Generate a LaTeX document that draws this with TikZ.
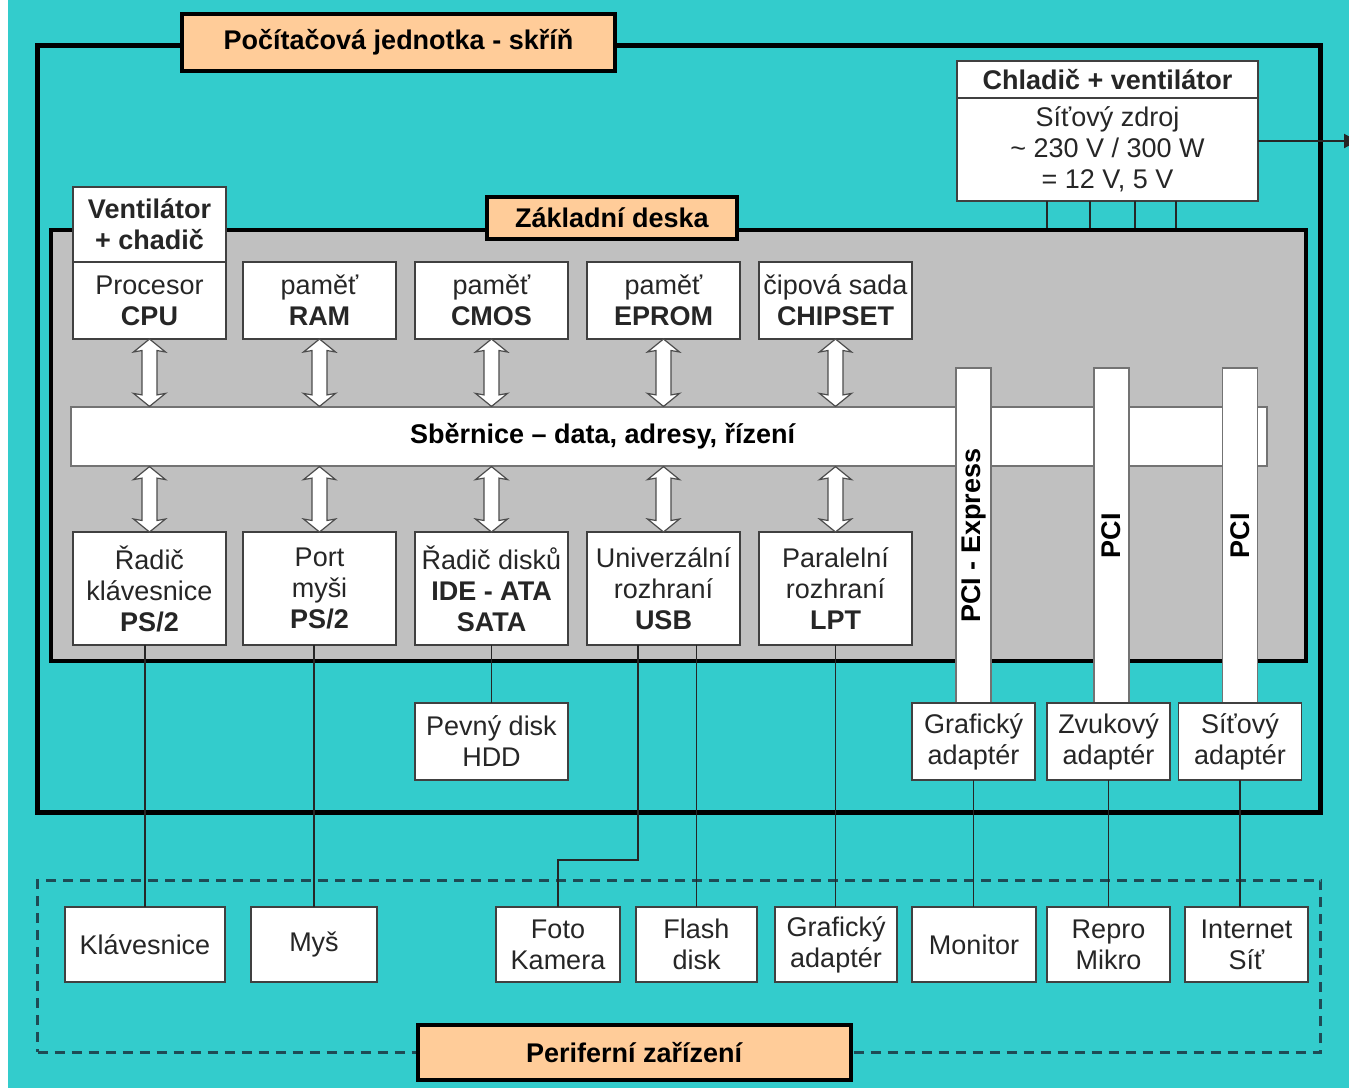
\documentclass[tikz,border=0pt]{standalone}
\usepackage{fontspec}
\setmainfont{Liberation Sans}
\usetikzlibrary{positioning,calc,arrows.meta}
\definecolor{cyanbg}{RGB}{51,204,204}
\definecolor{peach}{RGB}{255,204,153}
\definecolor{boardgray}{RGB}{192,192,192}
\definecolor{dashcol}{RGB}{30,75,85}

\begin{document}
\begin{tikzpicture}[x=1pt, y=-1pt, node distance={19pt}, font=\fontsize{27}{31}\selectfont,
  casebox/.style = {draw=black, inner sep=0pt},
  tagbox/.style = {draw=black, fill=peach, line width=4pt, inner sep=0pt},
  box/.style = {draw=black!75, fill=white, line width=1.5pt, minimum width=153pt, inner sep=0pt, outer sep=0pt, align=center, text=black!85},
  dev/.style = {box, minimum height=75pt},
  bus/.style = {draw=black!55, fill=white, line width=1.2pt, inner sep=0pt},
  slot/.style = {draw=black!55, fill=white, line width=1.2pt, rotate=90, minimum width=335pt, minimum height=35pt, inner sep=0pt, outer sep=0pt},
  twoway/.style = {draw=black!70, fill=white, line width=1.2pt},
  wire/.style = {draw=black!85, line width=1.5pt}]
\useasboundingbox (0,0) rectangle (1349,1088);
\fill[white] (0,0) rectangle (1349,1088);
\fill[cyanbg] (8,0) rectangle (1349,1088);
\node[casebox, line width=5pt, minimum width=1283pt, minimum height=767pt] (pc) at (678.5,428.5) {};
\node[tagbox, minimum width=433pt, minimum height=57pt] (pctag) at (398.5,42.5) {\textbf{Počítačová jednotka - skříň}};
\node[box, minimum width=301pt, minimum height=37pt] (cool) at (1107.5,79.5) {\textbf{Chladič + ventilátor}};
\node[box, minimum width=301pt, minimum height=103pt, below=0pt of cool] (psu) {Síťový zdroj\\\textasciitilde{} 230 V / 300 W\\= 12 V, 5 V};
\coordinate (mains) at (1358,141);
\draw[wire, line width=2pt, -{Triangle[length=14pt,width=14pt]}] (psu.east |- mains) -- (mains);
\node[casebox, fill=boardgray, line width=4pt, minimum width=1255pt, minimum height=431pt] (mb) at (678.5,445.5) {};
\node[tagbox, minimum width=250pt, minimum height=42pt] (mbtag) at (612,218) {\textbf{Základní deska}};
\foreach \dx in {90,133,178,219}
  \draw[wire] ($(psu.south west)+(\dx,0)$) coordinate (p) -- (p |- mb.north);
\node[box, minimum height=77pt] (cpu) at (149.5,300.5) {Procesor\\\textbf{CPU}};
\node[box, minimum height=75pt, above=0pt of cpu] (fan) {\textbf{Ventilátor}\\\textbf{+ chadič}};
\node[box, minimum height=77pt, right=17pt of cpu] (ram) {paměť\\\textbf{RAM}};
\node[box, minimum height=77pt, right=of ram] (cmos) {paměť\\\textbf{CMOS}};
\node[box, minimum height=77pt, right=of cmos] (eprom) {paměť\\\textbf{EPROM}};
\node[box, minimum height=77pt, right=of eprom] (chip) {čipová sada\\\textbf{CHIPSET}};
\node[bus, minimum width=1196pt, minimum height=59pt, label={[xshift=-66pt]center:\textbf{Sběrnice – data, adresy, řízení}}] (bus) at (669,436.5) {};
\node[box, minimum height=113pt] (kbd) at (149.5,588.5) {Řadič\\klávesnice\\\textbf{PS/2}};
\node[box, minimum height=113pt, right=17pt of kbd] (mouse) {Port\\myši\\\textbf{PS/2}};
\node[box, minimum height=113pt, right=of mouse] (ide) {Řadič disků\\\textbf{IDE - ATA}\\\textbf{SATA}};
\node[box, minimum height=113pt, right=of ide] (usb) {Univerzální\\rozhraní\\\textbf{USB}};
\node[box, minimum height=113pt, right=of usb] (lpt) {Paralelní\\rozhraní\\\textbf{LPT}};
\foreach \n in {cpu,ram,cmos,eprom,chip} {
  \coordinate (t) at (\n.south);
  \coordinate (b) at (\n.south |- bus.north);
  \draw[twoway] (t) -- ($(t)+(16,13)$) -- ($(t)+(7.5,11.5)$) -- ($(b)+(7.5,-11.5)$) -- ($(b)+(16,-13)$) -- (b) -- ($(b)+(-16,-13)$) -- ($(b)+(-7.5,-11.5)$) -- ($(t)+(-7.5,11.5)$) -- ($(t)+(-16,13)$) -- cycle;
}
\foreach \n in {kbd,mouse,ide,usb,lpt} {
  \coordinate (t) at (\n.north |- bus.south);
  \coordinate (b) at (\n.north);
  \draw[twoway] (t) -- ($(t)+(16,13)$) -- ($(t)+(7.5,11.5)$) -- ($(b)+(7.5,-11.5)$) -- ($(b)+(16,-13)$) -- (b) -- ($(b)+(-16,-13)$) -- ($(b)+(-7.5,-11.5)$) -- ($(t)+(-7.5,11.5)$) -- ($(t)+(-16,13)$) -- cycle;
}
\node[slot] (pcie) at (973.5,535.5) {\textbf{PCI - Express}};
\node[slot] (pci1) at (1111.5,535.5) {\textbf{PCI}};
\node[slot] (pci2) at (1240,535.5) {\textbf{PCI}};
\node[box, minimum width=123pt, minimum height=77pt, below=0pt of pcie.west] (gfx) {Grafický\\adaptér};
\node[box, minimum width=123pt, minimum height=77pt, below=0pt of pci1.west, xshift=-3pt] (snd) {Zvukový\\adaptér};
\node[box, minimum width=123pt, minimum height=77pt, below=0pt of pci2.west] (net) {Síťový\\adaptér};
\node[box, minimum height=77pt, below=58pt of ide] (hdd) {Pevný disk\\HDD};
\draw[wire] (ide) -- (hdd);
\node[casebox, draw=dashcol, line width=3pt, dash pattern=on 10pt off 7pt, minimum width=1283pt, minimum height=172pt] (per) at (679,966) {};
\node[dev, minimum width=160pt] (klav) at (145,944.5) {Klávesnice};
\node[dev, minimum width=126pt] (mys) at (314,944.5) {Myš};
\node[dev, minimum width=124pt] (foto) at (558,944.5) {Foto\\Kamera};
\node[dev, minimum width=121pt] (flash) at (696.5,944.5) {Flash\\disk};
\node[dev, minimum width=122pt] (gfxp) at (836,944.5) {Grafický\\adaptér};
\node[dev, minimum width=124pt] (mon) at (974,944.5) {Monitor};
\node[dev, minimum width=123pt] (repro) at (1108.5,944.5) {Repro\\Mikro};
\node[dev, minimum width=123pt] (inet) at (1246.5,944.5) {Internet\\Síť};
\draw[wire] (klav.north |- kbd.south) -- (klav.north);
\draw[wire] (mys.north |- mouse.south) -- (mys.north);
\draw[wire] ([xshift=51pt]usb.south west) -- ++(0,215) -| (foto.north);
\draw[wire] (flash.north |- usb.south) -- (flash.north);
\draw[wire] (lpt.south) -- (lpt.south |- gfxp.north);
\draw[wire] (gfx.south) -- (gfx.south |- mon.north);
\draw[wire] (snd.south) -- (snd.south |- repro.north);
\draw[wire] (net.south) -- (net.south |- inet.north);
\node[tagbox, minimum width=433pt, minimum height=55pt] (pertag) at (634.5,1052.5) {\textbf{Periferní zařízení}};
\end{tikzpicture}
\end{document}
